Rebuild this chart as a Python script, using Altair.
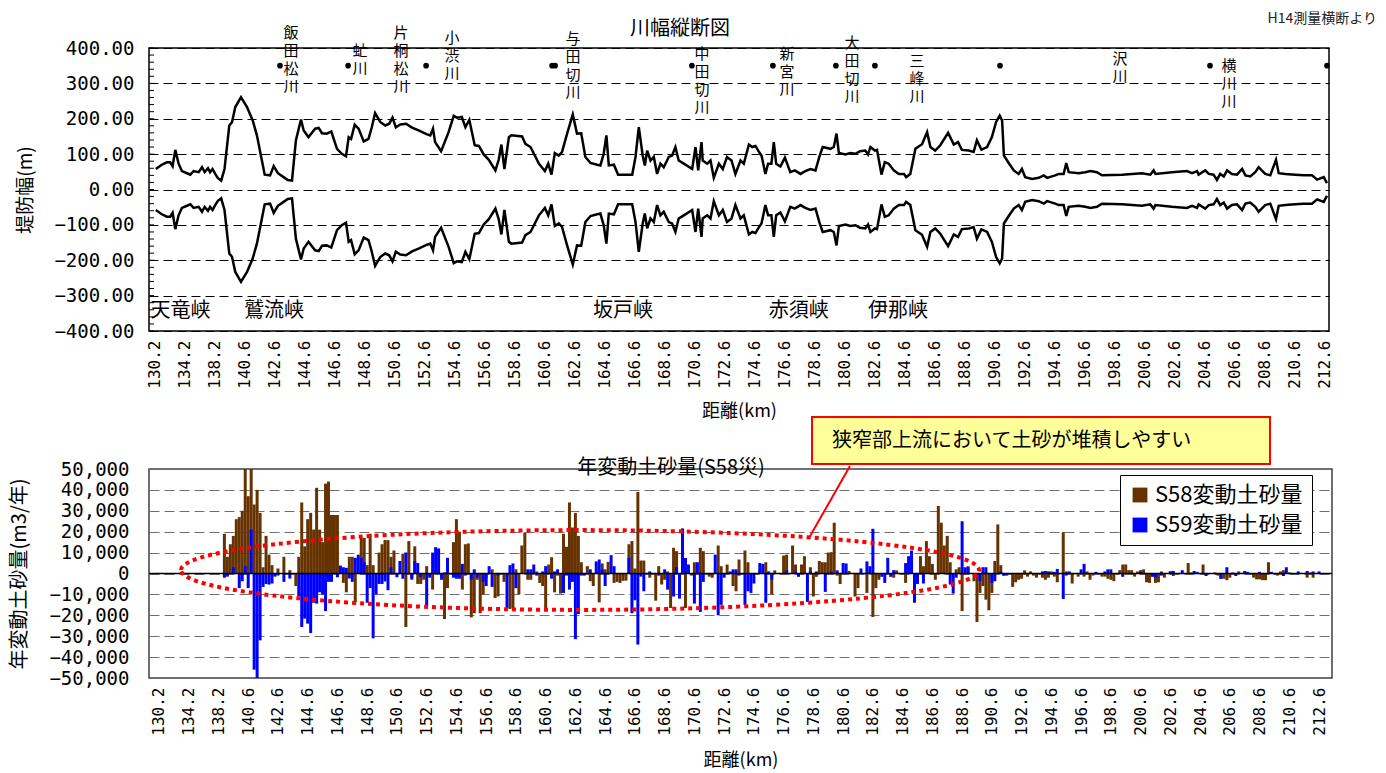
import altair as alt
import pandas as pd

FONT_JP = "Noto Sans CJK JP"
FONT_NUM = "DejaVu Sans Mono"

# ---------------------------------------------------------------- axis labels
x_labels = ["130.2", "134.2", "138.2", "140.6", "142.6", "144.6", "146.6", "148.6",
            "150.6", "152.6", "154.6", "156.6", "158.6", "160.6", "162.6", "164.6",
            "166.6", "168.6", "170.6", "172.6", "174.6", "176.6", "178.6", "180.6",
            "182.6", "184.6", "186.6", "188.6", "190.6", "192.6", "194.6", "196.6",
            "198.6", "200.6", "202.6", "204.6", "206.6", "208.6", "210.6", "212.6"]
LABEL_STEP = 10          # cross sections between two labelled distances
tick_vals = [i * LABEL_STEP for i in range(len(x_labels))]
width_ticks = [-400, -300, -200, -100, 0, 100, 200, 300, 400]
sediment_ticks = [-50000, -40000, -30000, -20000, -10000, 0,
                  10000, 20000, 30000, 40000, 50000]

# ---------------------------------------------------------------- river width profile
# (cross-section position, half width of the levee-to-levee channel in m)
width_profile = [
    (0.6, 58), (2.6, 70), (4.3, 77), (5.4, 77), (6.2, 66), (7.1, 112), (8.2, 73), (9.3, 52),
    (11, 46), (12.1, 42), (13.2, 52), (14.9, 49), (16, 63), (16.9, 49), (18, 60), (18.7, 49),
    (19.5, 58), (20.4, 44), (21.3, 32), (22.4, 25), (23.5, 58), (25.1, 181), (26, 190),
    (27.1, 233), (29, 261), (31, 233), (32.9, 195), (34.3, 153), (36.9, 42), (38.7, 40),
    (39.9, 66), (41.3, 46), (43.2, 35), (44.6, 27), (46, 25), (47.3, 139), (49, 198),
    (49.9, 167), (51.5, 148), (53.7, 172), (54.9, 174), (56, 159), (57.6, 158), (59.1, 164),
    (61, 115), (62.6, 101), (64, 94), (64.9, 148), (65.7, 143), (66.9, 183), (68.2, 172),
    (69.9, 136), (71.5, 143), (72.6, 176), (73.7, 216), (75.4, 191), (77.1, 181), (78.4, 186),
    (79.5, 203), (80.6, 176), (82.1, 184), (84, 186), (86, 175), (88.2, 167), (91, 156),
    (92.1, 153), (93, 172), (93.7, 134), (95.7, 108), (98.2, 162), (99.9, 208), (101, 203),
    (102.6, 205), (103.8, 176), (105.1, 197), (106.9, 125), (108.3, 123), (109.9, 99),
    (111.6, 84), (113.8, 54), (114.9, 84), (115.8, 127), (116.8, 58), (118.3, 148),
    (119.1, 153), (122.7, 150), (123.8, 129), (125.5, 120), (128.3, 73), (130.3, 52),
    (131.4, 73), (132.5, 42), (133.6, 103), (134.9, 96), (136, 106), (137.7, 158),
    (139.6, 212), (141, 158), (142.4, 159), (143.8, 92), (145.5, 75), (147.7, 70),
    (148.8, 68), (149.9, 101), (150.8, 153), (151.6, 68), (153.3, 70), (154.7, 42),
    (159.4, 42), (160.5, 92), (161.6, 176), (162.9, 96), (163.6, 68), (164.4, 110),
    (165.5, 82), (166.6, 92), (167.7, 44), (168.8, 73), (169.9, 63), (171.6, 92),
    (172.7, 96), (173.8, 120), (174.9, 82), (176.6, 73), (179.4, 58), (180.5, 120),
    (181.4, 54), (182.5, 134), (182.9, 82), (184.4, 73), (185.5, 82), (186.6, 33),
    (188.3, 73), (189.6, 58), (191, 92), (192.5, 82), (193.8, 44), (195.5, 82), (196.6, 73),
    (198.3, 127), (199.4, 120), (200.5, 123), (201.4, 110), (202.5, 96), (203.8, 44),
    (204.7, 73), (205.8, 73), (206.6, 134), (207.4, 73), (208.8, 65), (210.3, 90),
    (212.1, 49), (213.6, 54), (215.5, 44), (217.1, 52), (218.8, 58), (220.5, 54),
    (221.8, 93), (222.9, 120), (225.5, 115), (226.6, 120), (227.5, 158), (228.3, 103),
    (230.5, 99), (232.1, 103), (233.8, 101), (235.3, 108), (237.1, 110), (238, 99),
    (238.8, 120), (240.3, 110), (241, 112), (242.5, 42), (243.6, 77), (244.9, 73),
    (246.6, 54), (248.3, 44), (250, 44), (250.7, 35), (252.1, 44), (253.8, 115), (256, 128),
    (257.7, 162), (258.8, 120), (260.4, 110), (262.1, 125), (264.7, 160), (266.6, 127),
    (268, 134), (269.3, 112), (271.6, 110), (273.2, 106), (274.3, 139), (275.8, 113),
    (277.7, 120), (279.3, 148), (280.7, 191), (281.9, 209), (282.7, 195), (283.3, 96),
    (284.9, 75), (286.6, 54), (288.2, 44), (289.3, 58), (290.4, 35), (292.7, 30),
    (294.9, 33), (296.6, 40), (297.7, 33), (300.4, 40), (301.6, 44), (303.2, 44),
    (304.1, 75), (304.9, 49), (308.2, 46), (310.4, 49), (312.1, 52), (314.3, 49), (316, 40),
    (322.7, 42), (329.3, 46), (332.1, 42), (333.2, 54), (333.8, 44), (339.3, 49),
    (344.3, 52), (346, 46), (347.7, 52), (348.2, 42), (350.4, 54), (351.6, 44), (353.2, 42),
    (354.3, 27), (355.4, 44), (356.6, 37), (357.7, 54), (359.3, 44), (361, 42), (362.7, 58),
    (363.8, 40), (365.4, 37), (367.1, 49), (368.2, 63), (370.4, 44), (372.1, 40), (374, 84),
    (374.9, 46), (377.1, 44), (380.4, 42), (383.2, 40), (386, 40), (387.7, 28), (389.9, 35),
    (391, 18),
]

# tributary confluences and names
confluence_pos = [42, 64.7, 90.7, 132.7, 133.7, 179.3, 206.3, 227.3, 240.3, 282, 352, 391]
trib_names = ["飯田松川", "虻川", "片桐松川", "小渋川", "与田切川", "中田切川",
              "新宮川", "大田切川", "三峰川", "沢川", "横川川"]
trib_pos = [45.7, 68.7, 82.3, 99.3, 139.7, 182.7, 211, 232.7, 254.3, 322, 358.3]
trib_top = [463, 412, 463, 449, 446, 404, 404, 435, 384, 390, 370]

# gorges
gorge_names = ["天竜峡", "鷲流峡", "坂戸峡", "赤須峡", "伊那峡"]
gorge_pos = [8.8, 40, 156.3, 214.9, 248]

# ---------------------------------------------------------------- annual sediment change
BAR_START = 20   # first cross section that carries a bar
# thousand m3 per year, one value per cross section from BAR_START
s58 = [
    0, 0, 19, 8, 14, 18, 26, 27, 30, 52,
    37, 52, 33, 40, 29, 3, 18, 9, 4, 0,
    2.4, 0, 8, 0, 1.6, 0, -6, 8, 34, 13,
    26, 29, 21, 41, 21, 15, 43, 44, 28, 28,
    28, 0, -4.5, -9, 8, 8, -13.6, 0, 17, 17,
    4, 19, 4, 0, 10, 14, 16, 16, 8, 11,
    0, 0, 9.5, -25.6, 15.5, -3, 13, -5, -5, -3,
    3.5, 0, -7.7, 0, 0, 0, -21.8, -7, 0, 15,
    26, 20, -7.7, 14, 14.4, -21, -19, -3, -19, -10,
    -2, 0, 2, -11.7, -11, 0, -4, -1, -17, -16.5,
    2, -10, 13.4, 19.5, -3, -3, 0, 1, -4.5, -6,
    -17.6, 4.3, 7.8, -9, -1, -9.6, 19, 12.8, 34, 22,
    29, 18, 5.4, 0, 3.5, -3.7, -6, 0, -13.8, 4.8,
    2, 5.6, 0, -4.5, -4, -4.5, -3.5, -3.4, 14, 15.5,
    2.4, 39, 6.2, 6.2, 0, -2, 0, -13, 3.5, -5.3,
    -3, 1, -16.5, 12.3, 10.7, 0, 19.5, -16.5, 0, -1,
    5.4, 0, 12.3, 10.7, 0, -1.5, -2, 0, 13.4, 3.5,
    0, 4.3, 0, -6, -8.5, 6.7, 0, 11, 5.4, 0,
    0, 0, 2, 0, 5.4, 0, -10, 1.5, 0, 0,
    8.6, 9, 0, 13.4, 4.3, 0, 4.3, 8.3, 0, 3,
    -11, -1.6, 6, 5.4, 5.4, 10, 10.2, 24.3, -1, -5,
    0, 0, 1.2, 0, -11, -7, 0, 0, -9.3, 0,
    -20.8, -7, -3, 0, 0, 0, 0, -2, 1.5, 0,
    0, -4.5, 0, 0, 0, 0, 8.3, 3.5, 15.5, 8.3,
    4.6, -3, 32.3, 24.3, 13.4, 18, 5.4, 0, 2, 3,
    -18, -0.5, 3.5, 0, -3.7, -23.2, -9.3, -6, -12.5, -17.6,
    -9.3, 6, 23.5, 4, -1, 0, 0, -6.4, -4.2, -3,
    -2.5, 1.5, -1.5, 1, -1, -2, 0, -2, -3, -2,
    1, -1.5, -4.2, 0, 19.8, 1, 1, -4.8, 0, -1.5,
    0, -1.5, 1, -3, -1, 0, 0, -1.5, -1.5, -2.5,
    -3, -3.7, 0, 1.6, 4.3, 4.3, 1.6, 1.6, -1.5, 1,
    1.6, 2, -4.2, -4.5, 0, -4.5, -4.2, 1, -2, 0,
    1, -1.2, 0, 0, 0, 0, 5, 0.5, 0, 0,
    0, 4.3, 0, 0, 0, 0.5, -1, -2.5, -2.5, -3.2,
    -2, 0.5, 0, 1, 0, 0, 0, 0, -2, -2.8,
    -2.8, -3.2, -3.2, 5.4, 0.5, -0.5, -1, 1, 1.6, 0,
    0.5, 0, 0, 0, 0, 0, -2, 0.5, -2, 0, 0, 0,
]
s59 = [
    0, 0, -2, -1.5, 0, 3, 0, -7, -3.7, 3.5,
    -7, 21, -46, -50.5, -32, -6.4, -5, -5.3, -4.8, -1.5,
    -1, 0, -4, 0, -2.4, 0, 0, -11, -25.6, -21.6,
    -24, -28.5, -14, -14.4, -9, -10, -18, -4, -4, 0,
    -1.8, 3.8, 3, 2.7, -2.4, -4, 7.5, 9, 7.5, 5.4,
    -14, -7, -31, -10, -5, -5, -3.8, -8, 3, 0,
    -1.8, 6, -2.5, 10, 0, -2.5, 6, 5, -1.7, 0,
    -16, -2, 10, 12.6, 12, -3, 0.5, 7.5, 0, -2,
    -2.5, -2.5, 4.6, -1, 0, -3, 2, -2, 0, -4,
    -6, 3.5, -6.4, 0, -1, 0, 0, -16.5, 4, 4.8,
    -7, 0, 0, 0, 2, 2, 4.3, -1, 0, 1,
    3.5, 0, -2.5, 1, 2, 0, -9.3, -1, -7.7, -4,
    -31.4, -19.4, -1, -1, 0, 2, 0, 5.8, 6.7, 2,
    -6, 0, 8.8, 3.5, 0, 0, 0, 0, 7.5, -19,
    -12.8, -34, -1.5, -8.5, 0, 1, 0, 0, -1, 0,
    2, -7.7, 0, -11, 3, -12, 21.6, 7.4, 4.3, 0,
    -14.4, 5.4, -18.4, -4, 0, 0, 0, 9, -20, -15,
    -2, 0, 1, 2, 2, -1, 0, -15, -8.5, -9.3,
    -4.8, 0, 5, 4.6, -14, 1, -3, 0, 0, 0,
    0, 1.5, 0, 0, 1, -1.6, 0, 0, -13.6, 1,
    0, 1, 0, 0, -8.8, 0, 1, 0, 1.5, 0,
    5, 4.8, 0, 0, 0, 0, 2.4, 0, 5.8, 3.5,
    21.4, 0, 0, -1.6, -4.5, 7.5, -1.6, 1.6, 0, 0,
    0, 5, 8.3, 11, -14, -5, 0, -4.8, 0, 0,
    0, 0, 0, 0, 0, 0, -5.3, -9.6, -2, 0,
    25, 3, 3, 0, 0, 0, -3.7, 3, 3, 0,
    -4.5, -3.7, 0, 1, -1, -1, 0, 0, 0, 0,
    0, 0, 0, 0, 0, 0, 0, 1, 1.2, 1,
    0, 0.8, 2.2, 0, -12.2, -1, 0.8, 0, 0, 0,
    2, 4.6, 0, 0, 0, 0.8, 0, 0, 1, 2,
    2, 0, 0, 0, -1.6, 0, 0, 0, 0, 0,
    0.8, 0, 0, 0, -1.6, -2, 0, -1, 0, 0,
    1, 1.2, 0, 0, 1.6, 0, 0, 0, 1.2, 0.8,
    0, 0, -1.2, 0, 0, 0, 0, -2.5, 0, 3,
    0, 0, -1.2, 0, 0, 1.2, 0.8, 0, 0, 0,
    0.8, 0, 0, 0, 0.8, 0, 0, 0, -1.2, 3,
    0, 0, 0, 1, 0, 0, 1.2, 0, 1, 0, 1, 0,
]
series_names = ["S58変動土砂量", "S59変動土砂量"]
series_colors = ["#663300", "#0000FF"]

# ---------------------------------------------------------------- layout
TOP_W, TOP_H = 1180, 283
BOT_W, BOT_H = 1183, 209
UNIT_PX = 3.0
X_LEFT = -5 / 3
top_domain = [X_LEFT, X_LEFT + TOP_W / UNIT_PX]
bot_domain = [X_LEFT, X_LEFT + BOT_W / UNIT_PX]

label_expr = ("[" + ",".join("'%s'" % s for s in x_labels) + "]"
              "[round(datum.value / %d)]" % LABEL_STEP)


def x_enc(domain, title_pad):
    return alt.X(
        "pos:Q",
        scale=alt.Scale(domain=domain, nice=False, zero=False),
        axis=alt.Axis(values=tick_vals, labelExpr=label_expr, labelAngle=270,
                      labelFont=FONT_NUM, labelFontSize=16, labelPadding=9,
                      labelColor="black", labelOverlap=False, labelBound=False,
                      ticks=False, grid=False, domain=False,
                      title="距離(km)", titleFont=FONT_JP, titleFontSize=18,
                      titleFontWeight="normal", titleColor="black",
                      titlePadding=title_pad),
    )


# ================================================================ top panel
prof = pd.DataFrame(width_profile, columns=["pos", "hw"])
banks = pd.concat([
    prof.assign(w=prof["hw"], bank="upper"),
    prof.assign(w=-prof["hw"], bank="lower"),
])

y_top = alt.Y(
    "w:Q",
    scale=alt.Scale(domain=[-400, 400], nice=False),
    axis=alt.Axis(values=width_ticks, tickCount=len(width_ticks), format=".2f",
                  labelFont=FONT_NUM, labelFontSize=19, labelColor="black",
                  labelPadding=15, labelOverlap=False, labelFlush=False,
                  ticks=False, grid=True, gridDash=[9, 5],
                  gridColor="black", gridWidth=1, domain=False,
                  minExtent=100, maxExtent=100,
                  title="堤防幅(m)", titleFont=FONT_JP, titleFontSize=19,
                  titleFontWeight="normal", titleColor="black", titlePadding=14),
)
xt = x_enc(top_domain, 14)

width_lines = alt.Chart(banks).mark_line(color="black", strokeWidth=2.5).encode(
    x=xt, y=y_top, detail="bank:N"
)

minor = pd.DataFrame({"w": list(range(-400, 401, 20))})
minor_ticks = alt.Chart(minor).mark_rule(color="black", strokeWidth=1).encode(
    y=y_top, x=alt.value(0), x2=alt.value(5)
)

dots = alt.Chart(pd.DataFrame({"pos": confluence_pos, "w": 350})).mark_circle(
    size=32, color="black", opacity=1
).encode(x=xt, y=y_top)

tribs = pd.DataFrame({
    "pos": trib_pos, "w": trib_top,
    "label": ["\n".join(list(n)) for n in trib_names],
})
trib_text = alt.Chart(tribs).mark_text(
    font=FONT_JP, fontSize=15, lineHeight=18, baseline="top", align="center",
    lineBreak="\n", color="black"
).encode(x=xt, y=y_top, text="label:N")

gorges = pd.DataFrame({"pos": gorge_pos, "w": -343, "label": gorge_names})
gorge_text = alt.Chart(gorges).mark_text(
    font=FONT_JP, fontSize=20, baseline="middle", align="center", color="black"
).encode(x=xt, y=y_top, text="label:N")

top_title = alt.Chart(pd.DataFrame({"t": ["川幅縦断図"]})).mark_text(
    font=FONT_JP, fontSize=20, baseline="middle", align="center", color="black"
).encode(x=alt.value(531), y=alt.value(-19), text="t:N")

source_note = alt.Chart(pd.DataFrame({"t": ["H14測量横断より"]})).mark_text(
    font=FONT_JP, fontSize=14, baseline="middle", align="right", color="#222222"
).encode(x=alt.value(1228), y=alt.value(-29), text="t:N")

top = alt.layer(
    width_lines, minor_ticks, dots, trib_text, gorge_text, top_title, source_note
).properties(
    width=TOP_W, height=TOP_H,
    view=alt.ViewBackground(stroke="black", strokeWidth=1.5),
)

# ================================================================ bottom panel
rows = []
for name, vals in zip(series_names, [s58, s59]):
    for k, v in enumerate(vals):
        rows.append({"pos": BAR_START + k, "v": v * 1000, "series": name})
bars_df = pd.DataFrame(rows)

y_bot = alt.Y(
    "v:Q", stack=None,
    scale=alt.Scale(domain=[-50000, 50000], nice=False),
    axis=alt.Axis(values=sediment_ticks, tickCount=len(sediment_ticks), format=",d",
                  labelFont=FONT_NUM, labelFontSize=19, labelColor="black",
                  labelPadding=20, labelOverlap=False, labelFlush=False,
                  ticks=False, grid=True, gridDash=[10, 5],
                  gridColor="#707070", gridWidth=1.2, domain=False,
                  minExtent=106, maxExtent=106,
                  title="年変動土砂量(m3/年)", titleFont=FONT_JP, titleFontSize=20,
                  titleFontWeight="normal", titleColor="black", titlePadding=14),
)
xb = x_enc(bot_domain, 16)

bars = alt.Chart(bars_df).mark_bar(width=3, clip=True).encode(
    x=xb, y=y_bot,
    color=alt.Color(
        "series:N",
        scale=alt.Scale(domain=series_names, range=series_colors),
        legend=alt.Legend(title=None, orient="none", legendX=971, legendY=6,
                          fillColor="white", strokeColor="black", padding=9,
                          symbolType="square", symbolSize=220, symbolStrokeWidth=0,
                          labelFont=FONT_JP, labelFontSize=22, labelColor="black",
                          labelLimit=400, rowPadding=8, cornerRadius=0, offset=0),
    ),
)

zero_line = alt.Chart(pd.DataFrame({"v": [0]})).mark_rule(
    color="black", strokeWidth=1.5
).encode(y=y_bot)

ELLIPSE = "M -1 0 A 1 0.1 0 1 1 1 0 A 1 0.1 0 1 1 -1 0 Z"
ellipse = alt.Chart(pd.DataFrame({"k": [0]})).mark_point(
    shape=ELLIPSE, filled=False, stroke="#FF0000", strokeWidth=4,
    strokeDash=[4, 4], opacity=1
).encode(x=alt.value(431), y=alt.value(101), size=alt.value(798 * 798))

callout_box = alt.Chart(pd.DataFrame({"k": [0]})).mark_rect(
    fill="#FFFF99", stroke="#FF0000", strokeWidth=2
).encode(x=alt.value(663), x2=alt.value(1121), y=alt.value(-52), y2=alt.value(-5))

callout_text = alt.Chart(pd.DataFrame({"t": ["狭窄部上流において土砂が堆積しやすい"]})).mark_text(
    font=FONT_JP, fontSize=20, align="left", baseline="middle", color="black"
).encode(x=alt.value(683), y=alt.value(-28), text="t:N")

leader = alt.Chart(pd.DataFrame({"k": [0]})).mark_rule(
    color="#FF0000", strokeWidth=2
).encode(x=alt.value(701), y=alt.value(-3), x2=alt.value(660), y2=alt.value(69))

bot_title = alt.Chart(pd.DataFrame({"t": ["年変動土砂量(S58災)"]})).mark_text(
    font=FONT_JP, fontSize=20, baseline="middle", align="center", color="black"
).encode(x=alt.value(522), y=alt.value(-1), text="t:N")

bottom = alt.layer(
    bars, zero_line, ellipse, leader, callout_box, callout_text, bot_title
).properties(
    width=BOT_W, height=BOT_H,
    view=alt.ViewBackground(stroke="#404040", strokeWidth=1.5),
)

chart = alt.vconcat(top, bottom, spacing=138, bounds="flush").properties(
    padding={"left": 8, "top": 11, "right": 5, "bottom": 5},
    background="white",
).resolve_scale(x="independent", y="independent", color="independent")

chart.save("out.html", embed_options={"renderer": "svg", "actions": False})
